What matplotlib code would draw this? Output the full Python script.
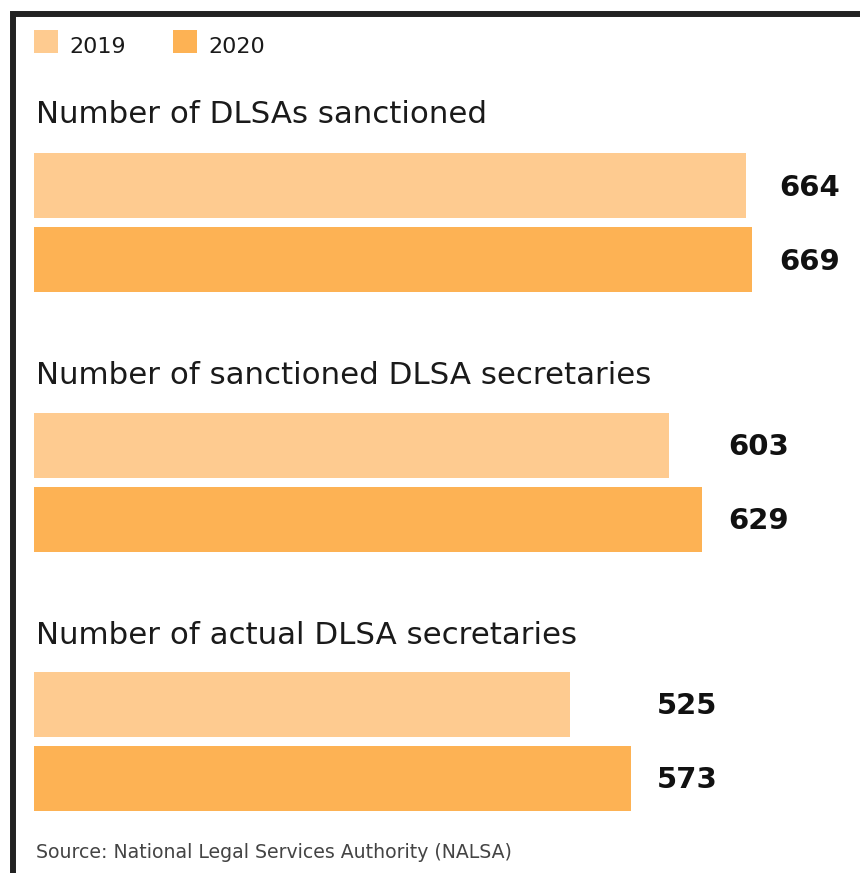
import matplotlib.pyplot as plt
from matplotlib.patches import Rectangle
from matplotlib.lines import Line2D

# Data
groups = ["Number of DLSAs sanctioned",
          "Number of sanctioned DLSA secretaries",
          "Number of actual DLSA secretaries"]
series = ["2019", "2020"]
values_2019 = [664, 603, 525]
values_2020 = [669, 629, 573]
source = "Source: National Legal Services Authority (NALSA)"

colors = ["#FECB90", "#FDB254"]
W, H = 860, 873

fig = plt.figure(figsize=(W / 100, H / 100), dpi=100)
fig.patch.set_facecolor("white")

# Axes spanning the bar area; y in pixel-like units (top = 0)
ax = fig.add_axes([34 / W, 0, (W - 34) / W, 1])
ax.set_xlim(102, 754)
ax.set_ylim(H, 0)
ax.axis("off")

group_top = 185.5
group_step = 259.5
bar_step = 74
bar_h = 65

for g, name in enumerate(groups):
    vals = [values_2019[g], values_2020[g]]
    centers = [group_top + g * group_step + s * bar_step for s in range(2)]
    ax.barh(centers, [v - 102 for v in vals], left=102, height=bar_h,
            color=colors, edgecolor="none")
    label_x = max(vals) + 21
    for c, v in zip(centers, vals):
        ax.text(label_x, c + 2, f"{v}", ha="left", va="center",
                fontsize=21, fontweight="bold", color="#111111")
    fig.text(36 / W, 1 - (123 + g * 260.5) / H, name, ha="left",
             va="baseline", fontsize=22.2, color="#1a1a1a")

# Legend
for i, (lab, col) in enumerate(zip(series, colors)):
    x0 = 34 + i * 139
    fig.patches.append(Rectangle((x0 / W, 1 - 53 / H), 24 / W, 23 / H,
                                 transform=fig.transFigure,
                                 facecolor=col, edgecolor="none"))
    fig.text((x0 + 35) / W, 1 - 53 / H, lab, ha="left", va="baseline",
             fontsize=16, color="#1a1a1a")

# Source note
fig.text(36 / W, 1 - 858 / H, source, ha="left", va="baseline",
         fontsize=13.6, color="#444444")

# Frame on the left and top edges
fig.add_artist(Line2D([13 / W, 13 / W, 1], [0, 1 - 13.5 / H, 1 - 13.5 / H],
                      transform=fig.transFigure, color="#222222", lw=4.3,
                      solid_joinstyle="miter", solid_capstyle="butt"))

fig.savefig("out.png", dpi=100)
